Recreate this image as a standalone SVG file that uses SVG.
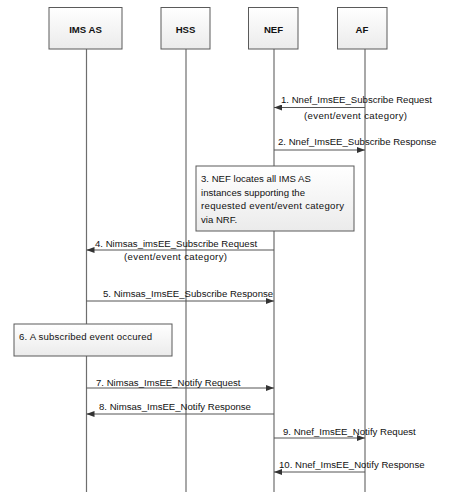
<svg xmlns="http://www.w3.org/2000/svg" width="449" height="492" viewBox="0 0 449 492">
<style>
text{font-family:"Liberation Sans",Arial,sans-serif;font-size:9.6px;fill:#111}
.hd{font-weight:bold;font-size:9.6px;text-anchor:middle}
.box{fill:url(#g);stroke:#5a5a5a;stroke-width:1}
.life{stroke:#6e6e6e;stroke-width:1.2}
.msg{stroke:#555;stroke-width:1;fill:none;marker-end:url(#ah)}
</style>
<defs>
<linearGradient id="g" x1="0" y1="0" x2="0" y2="1">
<stop offset="0" stop-color="#ffffff"/>
<stop offset="1" stop-color="#ebebeb"/>
</linearGradient>
<marker id="ah" viewBox="0 0 8 6" refX="8" refY="3" markerWidth="8" markerHeight="6" markerUnits="userSpaceOnUse" orient="auto">
<path d="M0,0 L8,3 L0,6 z" fill="#333"/>
</marker>
</defs>
<rect width="449" height="492" fill="#fff"/>
<g id="lifelines">
<line class="life" x1="86.5" y1="49" x2="86.5" y2="492"/>
<line class="life" x1="186" y1="49" x2="186" y2="492"/>
<line class="life" x1="274" y1="49" x2="274" y2="492"/>
<line class="life" x1="365" y1="49" x2="365" y2="492"/>
</g>
<g id="ims-as"><rect class="box" x="49" y="7.5" width="73" height="41.5"/><text class="hd" x="85.5" y="33">IMS AS</text></g>
<g id="hss"><rect class="box" x="161" y="7.5" width="49" height="41.5"/><text class="hd" x="185.5" y="33">HSS</text></g>
<g id="nef"><rect class="box" x="248.5" y="7.5" width="49.5" height="41.5"/><text class="hd" x="273.5" y="33">NEF</text></g>
<g id="af"><rect class="box" x="337.5" y="7.5" width="49.5" height="41.5"/><text class="hd" x="362" y="33">AF</text></g>
<g id="step3"><rect class="box" x="196" y="166" width="158" height="65"/>
<text x="201" y="182">3. NEF locates all IMS AS</text>
<text x="201" y="195.5">instances supporting the</text>
<text x="201" y="209" textLength="143" lengthAdjust="spacing">requested event/event category</text>
<text x="201" y="222.5">via NRF.</text></g>
<g id="step6"><rect class="box" x="14" y="324" width="158" height="32"/>
<text x="19" y="340" textLength="133" lengthAdjust="spacing">6. A subscribed event occured</text></g>
<g id="connectors">
<line class="msg" x1="365" y1="107.5" x2="274" y2="107.5"/>
<text x="281" y="103">1. Nnef_ImsEE_Subscribe Request</text>
<text x="304" y="119" textLength="103" lengthAdjust="spacing">(event/event category)</text>
<line class="msg" x1="274" y1="150" x2="365" y2="150"/>
<text x="278" y="145">2. Nnef_ImsEE_Subscribe Response</text>
<line class="msg" x1="274" y1="250" x2="86.5" y2="250"/>
<text x="95" y="246.5">4. Nimsas_imsEE_Subscribe Request</text>
<text x="124" y="259.5" textLength="103" lengthAdjust="spacing">(event/event category)</text>
<line class="msg" x1="86.5" y1="301" x2="274" y2="301"/>
<text x="103" y="297">5. Nimsas_ImsEE_Subscribe Response</text>
<line class="msg" x1="86.5" y1="388" x2="274" y2="388"/>
<text x="96" y="385.5">7. Nimsas_ImsEE_Notify Request</text>
<line class="msg" x1="274" y1="414" x2="86.5" y2="414"/>
<text x="99" y="410">8. Nimsas_ImsEE_Notify Response</text>
<line class="msg" x1="274" y1="438" x2="365" y2="438"/>
<text x="283" y="434.5">9. Nnef_ImsEE_Notify Request</text>
<line class="msg" x1="365" y1="472" x2="274" y2="472"/>
<text x="279" y="468">10. Nnef_ImsEE_Notify Response</text>
</g>
</svg>
